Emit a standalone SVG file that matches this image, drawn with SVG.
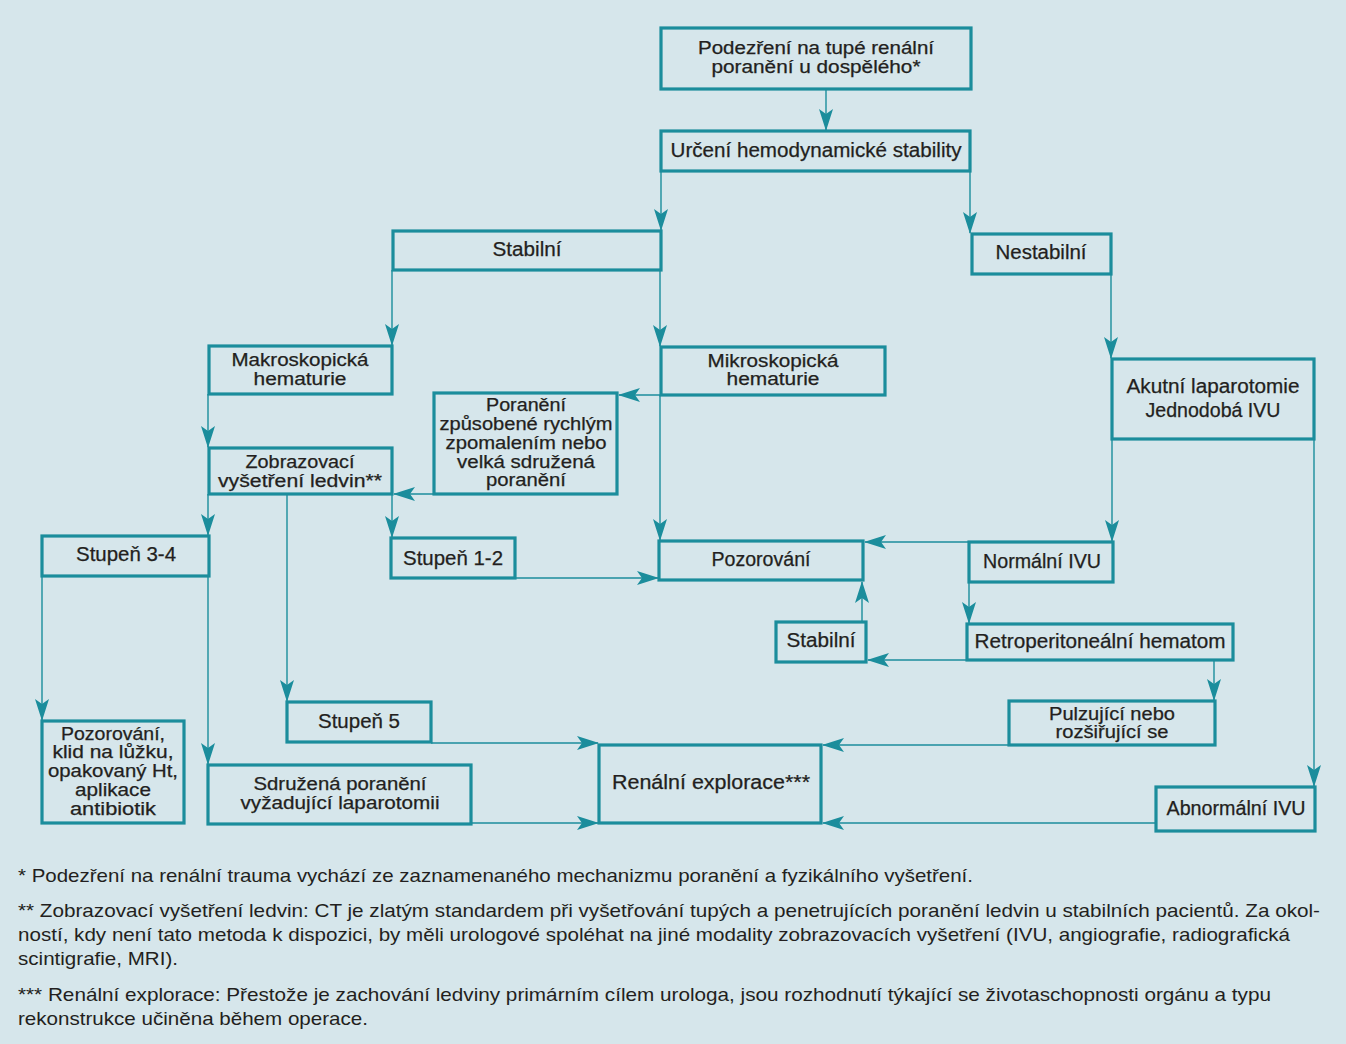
<svg xmlns="http://www.w3.org/2000/svg" width="1346" height="1044" viewBox="0 0 1346 1044">
<style>
.bg{fill:#d6e6eb}
.box rect{fill:none;stroke:#1b8d9c;stroke-width:3.2}
.box text,.note{font-family:"Liberation Sans",Arial,sans-serif;fill:#231f20;text-anchor:middle}
.box text{font-size:20px;stroke:#231f20;stroke-width:0.25}
.box text.t{font-size:17.5px}
.note{font-size:18.5px;text-anchor:start}
#connectors path{fill:none;stroke:#1b8d9c;stroke-width:1.4;marker-end:url(#arr)}
</style>
<defs>
<marker id="arr" markerUnits="userSpaceOnUse" markerWidth="22" markerHeight="14" viewBox="0 0 22 14" refX="21" refY="7" orient="auto">
<path d="M0,0 L22,7 L0,14 L5,7 Z" fill="#1b8d9c"/>
</marker>
</defs>
<rect class="bg" x="0" y="0" width="1346" height="1044"/>

<g id="connectors">
<path d="M826,89 V130"/>
<path d="M661,171 V230"/>
<path d="M970,171 V233"/>
<path d="M392,270 V345"/>
<path d="M660,270 V346"/>
<path d="M660,395 V540"/>
<path d="M661,395 H619"/>
<path d="M434,494 H394"/>
<path d="M208,394 V447"/>
<path d="M208,494 V535"/>
<path d="M392,494 V537"/>
<path d="M287,494 V701"/>
<path d="M42,576 V720"/>
<path d="M208,576 V764"/>
<path d="M515,578 H658"/>
<path d="M1111,274 V358"/>
<path d="M1112,439 V541"/>
<path d="M1314,439 V786"/>
<path d="M969,542 H865"/>
<path d="M969,582 V623"/>
<path d="M967,660 H868"/>
<path d="M862,622 V582"/>
<path d="M1214,660 V700"/>
<path d="M1009,745 H823"/>
<path d="M431,743 H598"/>
<path d="M471,823 H598"/>
<path d="M1156,823 H823"/>
</g>

<g id="n1" class="box"><rect x="661" y="28" width="310" height="61"/>
<text class="t" x="816" y="54" textLength="236" lengthAdjust="spacingAndGlyphs">Podezření na tupé renální</text>
<text class="t" x="816" y="73" textLength="209" lengthAdjust="spacingAndGlyphs">poranění u dospělého*</text></g>

<g id="n2" class="box"><rect x="661" y="131" width="309" height="40"/>
<text x="816" y="157" textLength="291" lengthAdjust="spacingAndGlyphs">Určení hemodynamické stability</text></g>

<g id="n3" class="box"><rect x="393" y="231" width="268" height="39"/>
<text x="527" y="256" textLength="69" lengthAdjust="spacingAndGlyphs">Stabilní</text></g>

<g id="n4" class="box"><rect x="972" y="234" width="139" height="40"/>
<text x="1041" y="259" textLength="91" lengthAdjust="spacingAndGlyphs">Nestabilní</text></g>

<g id="n5" class="box"><rect x="209" y="346" width="183" height="48"/>
<text class="t" x="300" y="366" textLength="137" lengthAdjust="spacingAndGlyphs">Makroskopická</text>
<text class="t" x="300" y="385" textLength="93" lengthAdjust="spacingAndGlyphs">hematurie</text></g>

<g id="n6" class="box"><rect x="661" y="347" width="224" height="48"/>
<text class="t" x="773" y="367" textLength="131" lengthAdjust="spacingAndGlyphs">Mikroskopická</text>
<text class="t" x="773" y="385" textLength="93" lengthAdjust="spacingAndGlyphs">hematurie</text></g>

<g id="n7" class="box"><rect x="434" y="393" width="183" height="101"/>
<text class="t" x="526" y="411" textLength="80" lengthAdjust="spacingAndGlyphs">Poranění</text>
<text class="t" x="526" y="430" textLength="173" lengthAdjust="spacingAndGlyphs">způsobené rychlým</text>
<text class="t" x="526" y="449" textLength="161" lengthAdjust="spacingAndGlyphs">zpomalením nebo</text>
<text class="t" x="526" y="468" textLength="138" lengthAdjust="spacingAndGlyphs">velká sdružená</text>
<text class="t" x="526" y="486" textLength="80" lengthAdjust="spacingAndGlyphs">poranění</text></g>

<g id="n8" class="box"><rect x="1112" y="359" width="202" height="80"/>
<text x="1213" y="393" textLength="173" lengthAdjust="spacingAndGlyphs">Akutní laparotomie</text>
<text x="1213" y="417" textLength="135" lengthAdjust="spacingAndGlyphs">Jednodobá IVU</text></g>

<g id="n9" class="box"><rect x="209" y="448" width="183" height="46"/>
<text class="t" x="300" y="468" textLength="109" lengthAdjust="spacingAndGlyphs">Zobrazovací</text>
<text class="t" x="300" y="487" textLength="164" lengthAdjust="spacingAndGlyphs">vyšetření ledvin**</text></g>

<g id="n10" class="box"><rect x="42" y="536" width="167" height="40"/>
<text x="126" y="561" textLength="100" lengthAdjust="spacingAndGlyphs">Stupeň 3-4</text></g>

<g id="n11" class="box"><rect x="391" y="538" width="124" height="40"/>
<text x="453" y="565" textLength="100" lengthAdjust="spacingAndGlyphs">Stupeň 1-2</text></g>

<g id="n12" class="box"><rect x="659" y="541" width="204" height="39"/>
<text x="761" y="566" textLength="99" lengthAdjust="spacingAndGlyphs">Pozorování</text></g>

<g id="n13" class="box"><rect x="969" y="542" width="144" height="40"/>
<text x="1042" y="568" textLength="118" lengthAdjust="spacingAndGlyphs">Normální IVU</text></g>

<g id="n14" class="box"><rect x="776" y="622" width="90" height="40"/>
<text x="821" y="647" textLength="69" lengthAdjust="spacingAndGlyphs">Stabilní</text></g>

<g id="n15" class="box"><rect x="967" y="624" width="266" height="36"/>
<text x="1100" y="648" textLength="251" lengthAdjust="spacingAndGlyphs">Retroperitoneální hematom</text></g>

<g id="n16" class="box"><rect x="42" y="721" width="142" height="102"/>
<text class="t" x="113" y="740" textLength="104" lengthAdjust="spacingAndGlyphs">Pozorování,</text>
<text class="t" x="113" y="758" textLength="121" lengthAdjust="spacingAndGlyphs">klid na lůžku,</text>
<text class="t" x="113" y="777" textLength="130" lengthAdjust="spacingAndGlyphs">opakovaný Ht,</text>
<text class="t" x="113" y="796" textLength="76" lengthAdjust="spacingAndGlyphs">aplikace</text>
<text class="t" x="113" y="815" textLength="86" lengthAdjust="spacingAndGlyphs">antibiotik</text></g>

<g id="n17" class="box"><rect x="287" y="702" width="144" height="40"/>
<text x="359" y="728" textLength="82" lengthAdjust="spacingAndGlyphs">Stupeň 5</text></g>

<g id="n18" class="box"><rect x="1009" y="701" width="206" height="44"/>
<text class="t" x="1112" y="720" textLength="126" lengthAdjust="spacingAndGlyphs">Pulzující nebo</text>
<text class="t" x="1112" y="738" textLength="113" lengthAdjust="spacingAndGlyphs">rozšiřující se</text></g>

<g id="n19" class="box"><rect x="599" y="745" width="222" height="78"/>
<text x="711" y="789" textLength="198" lengthAdjust="spacingAndGlyphs">Renální explorace***</text></g>

<g id="n20" class="box"><rect x="208" y="765" width="263" height="59"/>
<text class="t" x="340" y="790" textLength="173" lengthAdjust="spacingAndGlyphs">Sdružená poranění</text>
<text class="t" x="340" y="809" textLength="199" lengthAdjust="spacingAndGlyphs">vyžadující laparotomii</text></g>

<g id="n21" class="box"><rect x="1156" y="787" width="159" height="44"/>
<text x="1236" y="815" textLength="139" lengthAdjust="spacingAndGlyphs">Abnormální IVU</text></g>

<g id="notes">
<text class="note" x="18" y="882" textLength="955" lengthAdjust="spacingAndGlyphs">* Podezření na renální trauma vychází ze zaznamenaného mechanizmu poranění a fyzikálního vyšetření.</text>
<text class="note" x="18" y="917" textLength="1302" lengthAdjust="spacingAndGlyphs">** Zobrazovací vyšetření ledvin: CT je zlatým standardem při vyšetřování tupých a penetrujících poranění ledvin u stabilních pacientů. Za okol-</text>
<text class="note" x="18" y="941" textLength="1272" lengthAdjust="spacingAndGlyphs">ností, kdy není tato metoda k dispozici, by měli urologové spoléhat na jiné modality zobrazovacích vyšetření (IVU, angiografie, radiografická</text>
<text class="note" x="18" y="965" textLength="160" lengthAdjust="spacingAndGlyphs">scintigrafie, MRI).</text>
<text class="note" x="18" y="1001" textLength="1253" lengthAdjust="spacingAndGlyphs">*** Renální explorace: Přestože je zachování ledviny primárním cílem urologa, jsou rozhodnutí týkající se životaschopnosti orgánu a typu</text>
<text class="note" x="18" y="1025" textLength="350" lengthAdjust="spacingAndGlyphs">rekonstrukce učiněna během operace.</text>
</g>
</svg>
